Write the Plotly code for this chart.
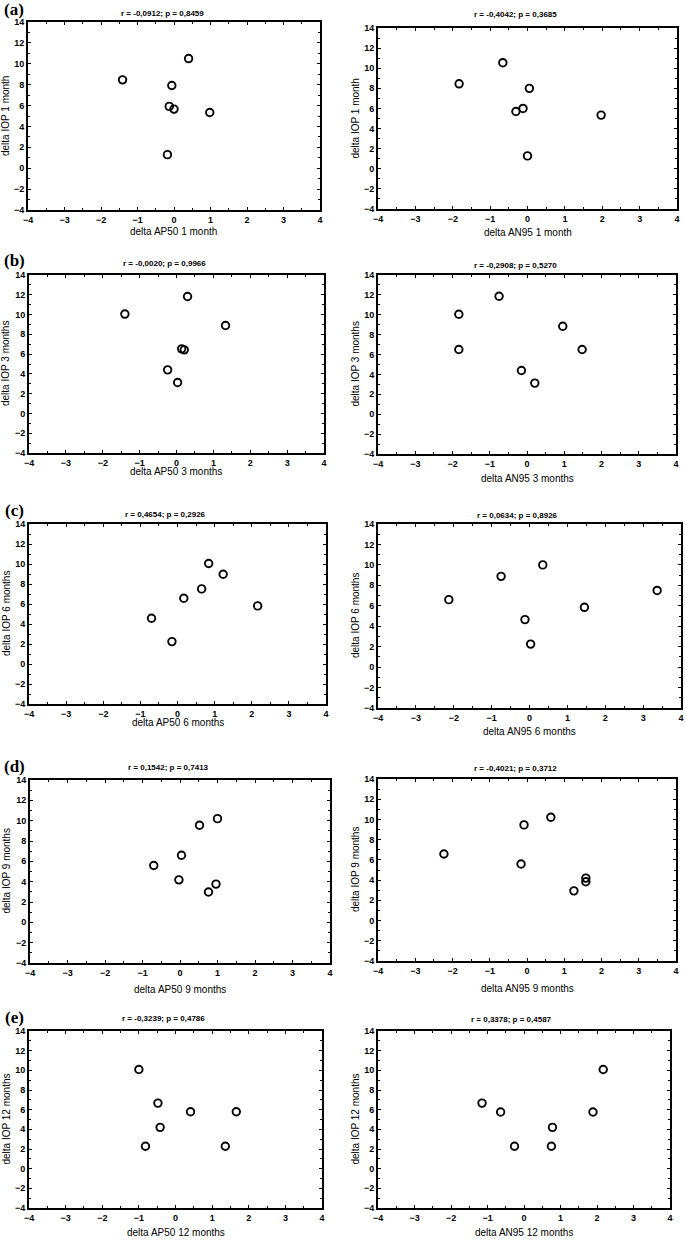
import plotly.graph_objects as go

W, H = 685, 1240

# data (one list per panel)
ap50_1m = [-1.41, 0.40, -0.06, -0.13, 0.00, 0.98, -0.18]
iop_ap50_1m = [8.46, 10.5, 7.92, 5.92, 5.66, 5.34, 1.30]
an95_1m = [-1.83, -0.66, 0.05, -0.12, -0.31, 1.97, 0.00]
iop_an95_1m = [8.45, 10.55, 8.0, 6.0, 5.70, 5.34, 1.28]

ap50_3m = [-1.40, 0.30, 1.33, 0.14, 0.21, -0.24, 0.03]
iop_ap50_3m = [10.05, 11.83, 8.89, 6.53, 6.43, 4.41, 3.13]
an95_3m = [-1.83, -0.75, -1.83, 0.96, 1.48, -0.15, 0.21]
iop_an95_3m = [10.05, 11.86, 6.51, 8.85, 6.51, 4.40, 3.13]

ap50_6m = [-0.70, -0.15, 0.17, 0.65, 0.84, 1.23, 2.16]
iop_ap50_6m = [4.58, 2.24, 6.58, 7.51, 10.05, 8.98, 5.81]
an95_6m = [-2.13, -0.75, 0.35, -0.12, 0.03, 1.45, 3.37]
iop_an95_6m = [6.60, 8.88, 10.0, 4.65, 2.25, 5.85, 7.50]

ap50_9m = [-0.70, -0.03, 0.04, 0.52, 1.00, 0.76, 0.96]
iop_ap50_9m = [5.59, 4.18, 6.60, 9.55, 10.2, 2.98, 3.76]
an95_9m = [-2.23, -0.08, 0.64, -0.16, 1.26, 1.58, 1.58]
iop_an95_9m = [6.58, 9.46, 10.22, 5.59, 2.94, 4.20, 3.84]

ap50_12m = [-1.00, -0.48, -0.42, -0.82, 0.41, 1.66, 1.36]
iop_ap50_12m = [10.08, 6.67, 4.20, 2.28, 5.79, 5.79, 2.28]
an95_12m = [-1.15, -0.64, -0.26, 0.75, 0.78, 1.89, 2.17]
iop_an95_12m = [6.67, 5.76, 2.28, 2.28, 4.20, 5.76, 10.08]

stats = [
    "r = -0,0912; p = 0,8459", "r = -0,4042; p = 0,3685",
    "r = -0,0020; p = 0,9966", "r = -0,2908; p = 0,5270",
    "r = 0,4654; p = 0,2926", "r = 0,0634; p = 0,8926",
    "r = 0,1542; p = 0,7413", "r = -0,4021; p = 0,3712",
    "r = -0,3239; p = 0,4786", "r = 0,3378; p = 0,4587",
]
months = ["1 month", "3 months", "6 months", "9 months", "12 months"]
letters = ["(a)", "(b)", "(c)", "(d)", "(e)"]

series = [
    (ap50_1m, iop_ap50_1m), (an95_1m, iop_an95_1m),
    (ap50_3m, iop_ap50_3m), (an95_3m, iop_an95_3m),
    (ap50_6m, iop_ap50_6m), (an95_6m, iop_an95_6m),
    (ap50_9m, iop_ap50_9m), (an95_9m, iop_an95_9m),
    (ap50_12m, iop_ap50_12m), (an95_12m, iop_an95_12m),
]

# plot frames in pixels: left, right, top, bottom
frames = [
    (28, 320, 22, 210), (378, 677, 28, 209),
    (29, 324, 275, 453), (378, 676, 275, 454),
    (29, 326, 524, 704), (378, 681, 524, 708),
    (30, 330, 780, 963), (378, 676, 779, 961),
    (29, 322, 1031, 1208), (378, 670, 1031, 1208),
]
title_y = [13, 15, 263, 265, 514, 515, 767, 768, 1018, 1019]
xtitle_y = [231, 232, 471, 478, 722, 731, 989, 988, 1232, 1232]

fig = go.Figure()
annotations = []
tick_font = dict(family="Liberation Sans, Arial", size=9, color="black", weight="bold")


def label(text, px, py, size, angle=0, bold=False, family="Liberation Sans, Arial"):
    return dict(
        text=text, x=px / W, y=1 - py / H, xref="paper", yref="paper",
        xanchor="center", yanchor="middle", showarrow=False, textangle=angle,
        font=dict(family=family, size=size, color="black",
                  weight="bold" if bold else "normal"),
    )


for i, ((xs, ys), (l, r, t, b)) in enumerate(zip(series, frames)):
    n = "" if i == 0 else str(i + 1)
    fig.add_trace(go.Scatter(
        x=xs, y=ys, mode="markers", xaxis="x" + n, yaxis="y" + n,
        marker=dict(symbol="circle-open", size=7.5, color="black",
                    line=dict(width=1.9, color="black")),
        showlegend=False, cliponaxis=False,
    ))
    common = dict(showgrid=False, zeroline=False, showline=True, linecolor="black",
                  linewidth=1.8, mirror="ticks", ticks="inside", ticklen=3,
                  tickcolor="black", tickfont=tick_font, automargin=False)
    fig.update_layout(**{
        "xaxis" + n: dict(common, domain=[l / W, r / W], range=[-4, 4], dtick=1,
                          anchor="y" + n, minor=dict(ticks="inside", ticklen=2, dtick=0.5,
                                                     tickcolor="black")),
        "yaxis" + n: dict(common, domain=[1 - b / H, 1 - t / H], range=[-4, 14], dtick=2,
                          anchor="x" + n, minor=dict(ticks="inside", ticklen=2, dtick=1,
                                                     tickcolor="black")),
    })
    name = "AP50" if i % 2 == 0 else "AN95"
    month = months[i // 2]
    cx = (l + r) / 2
    annotations.append(label(stats[i], cx - 12, title_y[i], 8, bold=True))
    annotations.append(label("delta " + name + " " + month, cx, xtitle_y[i], 10))
    annotations.append(label("delta IOP " + month, 6 if i % 2 == 0 else 355,
                             (t + b) / 2, 10, angle=-90))
    if i % 2 == 0:
        annotations.append(label(letters[i // 2], 14, max(t - 14, 10), 17, bold=True,
                                 family="Liberation Serif, Times New Roman"))

fig.update_layout(
    width=W, height=H, margin=dict(l=0, r=0, t=0, b=0),
    paper_bgcolor="white", plot_bgcolor="white", annotations=annotations,
)

# the page body has a default 8px margin; drop it so the figure fills the window
fig.write_html("out.html", config={"displayModeBar": False},
               post_script="document.body.style.margin='0';")
